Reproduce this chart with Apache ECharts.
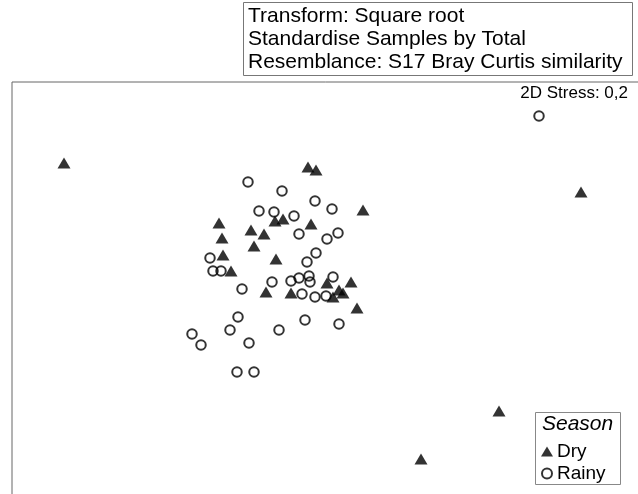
<!DOCTYPE html>
<html>
<head>
<meta charset="utf-8">
<script src="https://cdn.jsdelivr.net/npm/echarts@6/dist/echarts.min.js"></script>
<style>
  html, body { margin: 0; padding: 0; background: #fff; }
  #chart { width: 638px; height: 494px; }
</style>
</head>
<body>
<div id="chart"></div>
<script>
// nMDS coordinates (arbitrary units, y up)
const dryX = [52, 296, 304, 351, 569, 207, 210, 239, 252, 242, 263, 271, 299, 211, 219, 264, 254, 279, 315, 339, 327, 331, 321, 345, 487, 409]
const dryY = [331, 327, 324, 284, 302, 271, 256, 264, 260, 248, 273, 275, 270, 239, 223, 235, 202, 201, 211, 212, 204, 201, 197, 186, 83, 35]
const rainyX = [236, 270, 303, 320, 247, 262, 282, 287, 315, 326, 304, 198, 201, 209, 295, 230, 260, 279, 287, 297, 298, 321, 290, 303, 314, 226, 218, 180, 189, 237, 267, 293, 327, 225, 242, 527]
const rainyY = [312, 303, 293, 285, 283, 282, 278, 260, 255, 261, 241, 236, 223, 223, 232, 205, 212, 213, 216, 218, 212, 217, 200, 197, 198, 177, 164, 160, 149, 151, 164, 174, 170, 122, 122, 378]
const seasons = ['Dry', 'Rainy']
const infoLines = ['Transform: Square root', 'Standardise Samples by Total', 'Resemblance: S17 Bray Curtis similarity']
const stressText = '2D Stress: 0,2'

const font = '"Liberation Sans", Arial, sans-serif'

function pairs (xs, ys) {
  return xs.map((x, i) => [x, ys[i]])
}

const chart = echarts.init(document.getElementById('chart'))
const option = {
  animation: false,
  backgroundColor: '#fff',
  title: {
    text: stressText,
    right: 10,
    top: 85,
    padding: 0,
    textStyle: { fontFamily: font, fontSize: 17, fontWeight: 'normal', color: '#000' }
  },
  grid: {
    left: 12,
    top: 82,
    width: 640,
    height: 420,
    outerBoundsMode: 'none',
    show: true,
    borderColor: '#666',
    borderWidth: 1,
    backgroundColor: 'transparent'
  },
  xAxis: {
    type: 'value', min: 0, max: 640,
    show: false
  },
  yAxis: {
    type: 'value', min: -8, max: 412,
    show: false
  },
  legend: {
    orient: 'vertical',
    left: 541,
    top: 442,
    itemWidth: 12,
    itemHeight: 10,
    itemGap: 3,
    padding: 0,
    textStyle: { fontFamily: font, fontSize: 19, color: '#000', padding: [0, 0, 0, -1] },
    data: [
      { name: seasons[0], icon: 'triangle' },
      { name: seasons[1], icon: 'circle' }
    ]
  },
  graphic: [
    {
      type: 'rect',
      shape: { x: 243.5, y: 2.5, width: 389, height: 73 },
      style: { fill: '#fff', stroke: '#777', lineWidth: 1 }
    },
    {
      type: 'text',
      left: 248,
      top: 5,
      style: {
        text: infoLines.join('\n'),
        fontFamily: font, fontSize: 21, lineHeight: 23, fill: '#000'
      }
    },
    {
      type: 'rect',
      shape: { x: 535.5, y: 412.5, width: 85, height: 72 },
      style: { fill: '#fff', stroke: '#888', lineWidth: 1 },
      z: 0
    },
    {
      type: 'text',
      left: 542,
      top: 414,
      style: { text: 'Season', fontFamily: font, fontSize: 21, fontStyle: 'italic', fill: '#000' },
      z: 1
    }
  ],
  series: [
    {
      name: seasons[0],
      type: 'scatter',
      symbol: 'triangle',
      symbolSize: [13, 11],
      itemStyle: { color: '#000' },
      data: pairs(dryX, dryY),
      z: 3
    },
    {
      name: seasons[1],
      type: 'scatter',
      symbol: 'circle',
      symbolSize: 9.5,
      itemStyle: { color: 'rgba(255,255,255,0)', borderColor: '#000', borderWidth: 2 },
      data: pairs(rainyX, rainyY),
      z: 3
    }
  ]
}
chart.setOption(option)
</script>
</body>
</html>
